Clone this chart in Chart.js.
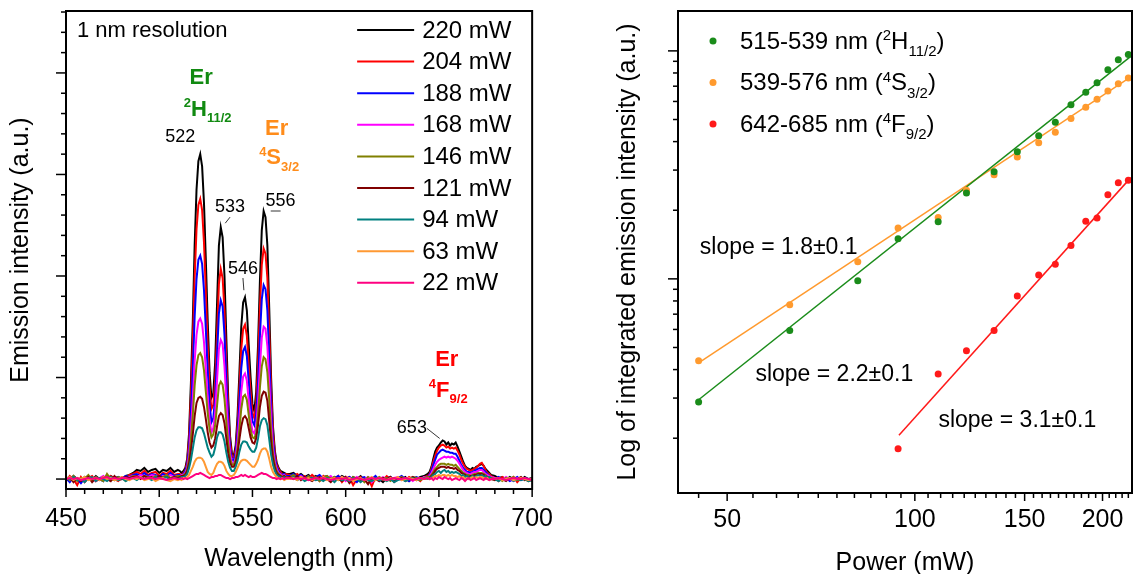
<!DOCTYPE html>
<html lang="en">
<head>
<meta charset="UTF-8">
<title>Er emission vs pump power</title>
<script src="https://cdn.jsdelivr.net/npm/chart.js"></script>
<style>
  body { margin: 0; background: #fff; }
  #wrap { position: relative; width: 1136px; height: 574px; }
  canvas { position: absolute; top: 0; }
</style>
</head>
<body>
<div id="wrap">
  <canvas id="spectra" width="560" height="574" style="left:0"></canvas>
  <canvas id="power" width="576" height="574" style="left:560px"></canvas>
</div>
<script>
const FONT = 'Arial, "Liberation Sans", sans-serif';
Chart.defaults.font.family = FONT;
Chart.defaults.color = '#000';

// ---------- left panel: emission spectra ----------
const wavelength = [
  450,452,454,456,458,460,462,464,466,468,470,472,474,476,478,480,482,484,486,488,490,492,494,496,498,500,502,504,506,508,510,
  511,512,513,514,515,516,517,518,519,520,521,522,523,524,525,526,527,528,529,530,531,532,533,534,535,536,537,538,539,540,
  541,542,543,544,545,546,547,548,549,550,551,552,553,554,555,556,557,558,559,560,561,562,563,564,565,566,567,568,
  570,572,574,576,578,580,582,584,586,588,590,592,594,596,598,600,602,604,606,608,610,612,614,616,618,620,622,624,626,628,630,632,634,636,638,640,642,644,
  645,646,647,648,649,650,651,652,653,654,655,656,657,658,659,660,661,662,663,664,665,666,667,668,669,670,671,672,673,674,675,676,677,678,
  680,682,684,686,688,690,692,694,696,698,700
];
const powerLabels = ['220 mW','204 mW','188 mW','168 mW','146 mW','121 mW','94 mW','63 mW','22 mW'];
const lineColors = ['#000000','#ff0000','#0000ff','#ff00ff','#808000','#800000','#008080','#ff9933','#ff0080'];

const p220 = [
  .02,-.02,.03,0,-.03,.02,.01,-.01,.03,0,.02,-.01,.03,.01,.02,0,.03,.04,.06,.09,.08,.11,.07,.09,.10,.06,.09,.08,.11,.07,.09,
  .08,.06,.08,.11,.20,.45,.95,1.55,2.30,2.85,3.13,3.20,3.08,2.72,2.15,1.55,1.05,.80,.84,1.15,1.72,2.30,2.48,2.38,2.00,1.38,.80,.42,.25,.23,
  .33,.62,1.05,1.50,1.74,1.79,1.66,1.32,1.00,.74,.67,.86,1.32,1.95,2.45,2.64,2.58,2.30,1.68,1.00,.52,.28,.16,.11,.08,.07,.06,.05,
  .05,.06,.03,.05,.02,.04,.01,.03,0,.02,.03,-.01,.02,0,.03,.01,-.02,.02,0,.03,-.01,.01,-.02,.02,0,-.03,.01,.02,-.01,.01,0,.02,-.02,.01,0,.02,.03,.05,
  .07,.12,.20,.27,.31,.33,.36,.38,.37,.34,.36,.33,.35,.34,.36,.32,.27,.22,.17,.13,.11,.10,.09,.11,.10,.12,.13,.14,.15,.13,.10,.08,.06,.04,
  .03,.01,.02,-.01,.02,0,.01,-.01,.02,0,.01
];
const p204 = [
  -.02,.03,0,-.06,.02,-.03,.01,.03,-.02,0,.02,-.01,.03,0,-.02,.02,.01,.04,.05,.07,.05,.08,.04,.06,.07,.03,.06,.05,.08,.04,.05,
  .05,.04,.06,.09,.17,.39,.82,1.34,1.98,2.46,2.70,2.76,2.65,2.33,1.84,1.32,.90,.69,.73,.97,1.42,1.92,2.07,1.98,1.66,1.15,.67,.36,.22,.21,
  .29,.54,.90,1.28,1.48,1.52,1.41,1.12,.86,.65,.60,.75,1.14,1.69,2.11,2.27,2.22,1.98,1.44,.87,.46,.25,.14,.10,.07,.05,.04,.05,
  .04,.03,.05,.02,.03,0,.04,.01,-.02,.03,0,.02,-.01,.03,-.03,.01,.02,-.06,0,.02,-.02,.01,-.07,.02,0,-.01,.03,0,-.02,.02,.01,-.01,.02,0,.01,-.02,.02,.03,
  .05,.10,.17,.23,.28,.31,.33,.34,.33,.31,.32,.30,.31,.30,.31,.28,.24,.19,.15,.12,.10,.09,.08,.09,.10,.11,.13,.15,.16,.13,.09,.06,.05,.03,
  .01,-.02,.02,0,-.01,.02,-.03,.01,0,-.02,.01
];
const p188 = [
  .01,-.03,.02,0,-.04,.01,.03,-.01,.02,0,-.02,.03,.01,-.01,.02,0,.03,.02,.04,.05,.03,.06,.03,.05,.04,.02,.05,.03,.06,.03,.04,
  .04,.03,.05,.08,.14,.31,.66,1.08,1.60,1.97,2.16,2.20,2.12,1.86,1.47,1.07,.74,.56,.60,.80,1.22,1.63,1.76,1.70,1.42,.98,.57,.30,.19,.18,
  .26,.46,.76,1.09,1.26,1.30,1.21,.96,.73,.57,.53,.64,.95,1.41,1.77,1.91,1.87,1.66,1.21,.72,.38,.21,.12,.08,.05,.04,.05,.03,
  .03,.05,.02,.04,.01,.03,-.01,.02,.04,0,.02,-.02,.01,.03,0,-.01,.02,0,-.03,.01,.02,-.01,0,.03,-.02,.01,0,.02,-.01,.01,.03,0,-.02,.01,.02,0,.01,.02,
  .04,.08,.14,.19,.24,.26,.28,.29,.28,.27,.27,.26,.26,.25,.25,.22,.18,.14,.11,.09,.07,.07,.06,.07,.08,.09,.10,.11,.11,.09,.07,.05,.03,.02,
  0,.02,-.01,.01,-.02,0,.02,-.01,.01,0,-.01
];
const p168 = [
  0,.02,-.02,.01,0,-.01,.02,0,-.02,.01,.03,0,-.01,.02,0,.01,-.01,.02,.03,.02,.04,.03,.02,.04,.03,.01,.03,.02,.04,.02,.03,
  .03,.04,.04,.06,.11,.24,.49,.79,1.16,1.42,1.55,1.58,1.53,1.35,1.07,.80,.58,.46,.50,.66,.97,1.28,1.37,1.33,1.11,.77,.45,.25,.16,.15,
  .21,.37,.61,.86,1.01,1.04,.97,.77,.59,.47,.45,.52,.76,1.11,1.39,1.50,1.48,1.31,.96,.58,.31,.17,.10,.06,.05,.03,.04,.02,
  .02,.03,.01,.03,0,.02,.01,-.01,.02,0,.01,.03,-.01,0,.02,-.02,.01,0,.02,-.01,0,.02,-.03,.01,0,.02,0,-.01,.01,.02,-.01,0,.01,-.02,.01,0,.02,.01,
  .03,.06,.10,.14,.17,.19,.20,.21,.22,.21,.22,.21,.22,.21,.20,.18,.15,.12,.09,.07,.06,.05,.05,.06,.07,.07,.08,.09,.09,.07,.05,.04,.03,.02,
  .01,0,-.01,.02,0,-.02,.01,0,.01,-.01,0
];
const p146 = [
  .02,-.01,.03,-.02,.01,0,.04,-.01,.02,0,-.02,.05,0,-.01,.02,.01,-.02,.01,.03,.02,.01,.03,.02,0,.03,.01,.02,.04,.01,.02,.03,
  .03,.02,.04,.05,.09,.20,.39,.63,.92,1.12,1.22,1.24,1.20,1.07,.86,.65,.49,.41,.44,.53,.72,.92,.96,.93,.79,.56,.35,.20,.14,.14,
  .19,.30,.49,.69,.81,.83,.78,.63,.49,.41,.40,.45,.64,.90,1.11,1.20,1.18,1.05,.78,.47,.25,.14,.08,.05,.04,.02,.03,.02,
  .02,.04,.01,.02,-.01,.03,0,.02,-.02,.01,.03,0,.02,-.01,.01,0,-.02,.02,0,.01,-.03,.02,0,-.01,.02,0,.01,-.02,.01,0,.02,-.01,0,.02,.01,-.01,.01,.02,
  .02,.04,.07,.10,.12,.14,.15,.15,.15,.14,.15,.14,.14,.13,.14,.12,.10,.08,.06,.05,.04,.04,.03,.04,.05,.05,.06,.06,.06,.05,.04,.02,.02,.01,
  0,.01,-.02,.01,0,.02,-.01,0,.01,-.02,0
];
const p121 = [
  -.01,.02,-.03,.01,-.02,0,.02,-.03,.01,-.01,.02,0,-.02,.03,-.01,0,.02,.01,.02,.03,0,.03,.01,.02,0,.03,.01,.02,0,.02,.01,
  .02,.03,.03,.04,.08,.15,.28,.44,.62,.75,.80,.81,.79,.71,.59,.46,.36,.31,.33,.40,.52,.62,.65,.63,.55,.40,.25,.16,.12,.12,
  .16,.25,.39,.52,.60,.62,.59,.50,.41,.36,.35,.40,.53,.71,.82,.86,.85,.77,.57,.36,.20,.11,.06,.04,.03,.02,.03,.01,
  .02,0,.03,-.01,.02,0,-.02,.01,.02,-.01,0,-.03,.01,0,-.02,.02,-.04,0,.01,-.02,0,-.05,.01,0,-.02,.01,-.01,.02,-.03,0,.01,-.02,0,.02,-.01,.01,0,.01,
  .01,.03,.05,.08,.10,.11,.12,.12,.12,.11,.12,.11,.11,.10,.11,.09,.08,.06,.05,.04,.03,.02,.03,.03,.04,.04,.05,.05,.05,.04,.03,.02,.01,0,
  -.01,.01,0,-.02,.01,-.01,0,.02,-.01,0,-.02
];
const p94 = [
  .01,0,.02,-.01,0,-.03,.01,.02,-.02,.01,0,-.02,.02,0,-.01,.01,-.02,0,.01,-.01,.02,0,.01,-.01,.02,0,.01,.02,-.01,.01,0,
  .01,.02,.02,.03,.05,.11,.19,.30,.41,.48,.51,.51,.50,.45,.38,.31,.26,.22,.24,.31,.41,.46,.46,.44,.37,.26,.17,.11,.08,.08,
  .12,.18,.27,.34,.37,.37,.36,.32,.29,.27,.27,.31,.40,.52,.58,.60,.59,.53,.39,.24,.14,.08,.04,.03,.02,.01,.02,.01,
  0,.02,-.01,.01,-.02,0,.01,-.01,0,-.02,.01,0,-.03,.01,-.01,0,-.02,.01,0,-.03,0,-.01,-.02,.01,-.01,0,-.02,0,-.03,-.01,0,-.02,0,.01,-.01,0,.01,0,
  .01,.02,.04,.05,.07,.08,.06,.08,.09,.07,.08,.06,.07,.06,.07,.06,.05,.03,.04,.02,.03,.01,.02,.03,.02,.03,.04,.03,.04,.02,.03,.01,.02,0,
  0,-.02,0,-.01,.01,-.02,0,-.01,0,-.02,-.01
];
const p63 = [
  0,.02,-.01,.01,0,.02,-.01,0,.01,-.01,.02,0,.01,-.01,0,.02,0,-.01,.01,0,.02,-.01,0,.01,-.02,0,.01,-.01,-.02,0,-.01,
  0,-.01,.01,.01,.02,.04,.08,.12,.17,.20,.21,.21,.20,.17,.12,.07,.05,.04,.06,.11,.15,.17,.17,.16,.13,.08,.05,.03,.03,.04,
  .07,.11,.15,.18,.19,.19,.18,.16,.14,.12,.12,.15,.19,.25,.29,.30,.30,.27,.20,.12,.07,.04,.02,.01,0,.01,-.01,0,
  0,.01,-.01,.02,0,.01,-.01,.01,0,.02,-.01,0,.01,-.01,.02,0,.01,-.02,0,.01,-.01,0,.02,-.01,.01,0,-.01,.01,0,.02,-.01,0,.01,0,-.01,.01,0,.01,
  0,.01,.02,.03,.03,.04,.03,.04,.04,.03,.04,.03,.04,.03,.03,.02,.03,.01,.02,0,.01,0,.01,.02,.01,.02,.01,.02,.02,.01,0,.01,-.01,0,
  0,.01,-.01,0,.01,-.01,0,.01,0,-.01,0
];
const p22 = [
  0,.01,0,.01,-.01,0,.01,0,.01,0,.01,.02,0,.01,0,.01,.01,0,.01,.02,.01,0,.01,.01,0,.01,0,-.01,0,.01,0,
  0,.01,0,.01,0,.01,.02,.03,.04,.05,.05,.06,.05,.04,.03,.02,.01,.02,.02,.03,.03,.04,.04,.03,.02,.01,.01,0,.01,.01,
  .02,.02,.03,.04,.03,.04,.03,.02,.03,.02,.02,.03,.04,.05,.06,.05,.05,.04,.03,.02,.01,.01,0,.01,0,.01,0,.01,
  .01,0,.01,0,.01,-.01,0,.01,0,.01,0,-.01,0,.01,0,.01,-.01,0,.01,0,-.01,0,.01,0,.01,0,-.01,0,.01,0,0,.01,0,-.01,0,.01,0,.01,
  0,.01,-.01,.01,0,.02,.01,0,.02,.01,0,.01,-.01,0,.01,0,-.01,.01,0,-.02,0,.01,-.01,0,.01,-.01,0,.01,0,-.01,.01,0,-.01,0,
  0,.01,0,-.01,0,.01,0,0,.01,0,-.01
];
const spectra = [p220, p204, p188, p168, p146, p121, p94, p63, p22];
const wlTickLabels = [450, 500, 550, 600, 650, 700];

// ---------- right panel: integrated intensity vs power ----------
const power    = [45, 63, 81, 94, 109, 121, 134, 146, 158, 168, 178, 188, 196, 204, 212, 220];
const powerRed = [94, 109, 121, 134, 146, 158, 168, 178, 188, 196, 204, 212, 220];
const intGreen  = [0.288, 0.594, 0.98, 1.50, 1.78, 2.38, 2.95, 3.61, 4.24, 4.86, 5.80, 6.59, 7.24, 8.26, 9.15, 9.63];
const intOrange = [0.437, 0.769, 1.19, 1.67, 1.86, 2.45, 2.86, 3.42, 3.95, 4.40, 5.05, 5.66, 6.13, 6.66, 7.18, 7.61];
const intRed    = [0.180, 0.383, 0.484, 0.594, 0.842, 1.04, 1.16, 1.40, 1.79, 1.85, 2.34, 2.64, 2.71];
const fitGreenP  = [45, 222],   fitGreenV  = [0.295, 9.46];
const fitOrangeP = [45, 222],   fitOrangeV = [0.4285, 7.69];
const fitRedP    = [94.3, 222], fitRedV    = [0.206, 2.78];
const powerTickLabels = [50, 100, 150, 200];
const bandNames = ['515-539 nm', '539-576 nm', '642-685 nm'];
const bandLevels = [['2', 'H', '11/2'], ['4', 'S', '3/2'], ['4', 'F', '9/2']];
const slopeTexts = ['slope = 1.8\u00b10.1', 'slope = 2.2\u00b10.1', 'slope = 3.1\u00b10.1'];
const dotColors = ['#1a8c1a', '#ff9a2e', '#ff1a1a'];

// ---------- drawing helpers ----------
function fontOf(size, bold) { return (bold ? 'bold ' : '') + size + 'px ' + FONT; }

// parts: [text, size, bold, dy]
function rich(ctx, x, y, parts, align) {
  let w = 0;
  parts.forEach(p => { ctx.font = fontOf(p[1], p[2]); w += ctx.measureText(p[0]).width; });
  let cx = align === 'center' ? x - w / 2 : x;
  ctx.textAlign = 'left';
  ctx.textBaseline = 'middle';
  parts.forEach(p => {
    ctx.font = fontOf(p[1], p[2]);
    ctx.fillText(p[0], cx, y + (p[3] || 0));
    cx += ctx.measureText(p[0]).width;
  });
}

function frameAndTicks(ctx, chart, xLen, yLen) {
  const a = chart.chartArea;
  ctx.strokeStyle = '#000';
  ctx.lineWidth = 1.5;
  chart.scales.x.ticks.forEach(t => {
    const p = chart.scales.x.getPixelForValue(t.value);
    if (p < a.left - 1 || p > a.right + 1) return;
    ctx.beginPath(); ctx.moveTo(p, a.bottom); ctx.lineTo(p, a.bottom + xLen(t.value)); ctx.stroke();
  });
  chart.scales.y.ticks.forEach(t => {
    const p = chart.scales.y.getPixelForValue(t.value);
    if (p < a.top - 1 || p > a.bottom + 1) return;
    ctx.beginPath(); ctx.moveTo(a.left, p); ctx.lineTo(a.left - yLen(t.value), p); ctx.stroke();
  });
  ctx.lineWidth = 2;
  ctx.strokeRect(a.left, a.top, a.right - a.left, a.bottom - a.top);
}

function segment(ctx, chart, x1, y1, x2, y2) {
  const sx = chart.scales.x, sy = chart.scales.y;
  ctx.beginPath();
  ctx.moveTo(sx.getPixelForValue(x1), sy.getPixelForValue(y1));
  ctx.lineTo(sx.getPixelForValue(x2), sy.getPixelForValue(y2));
  ctx.stroke();
}

const spectraDecor = {
  id: 'spectraDecor',
  afterDatasetsDraw(chart) {
    const {ctx, chartArea: a} = chart;
    const sx = chart.scales.x, sy = chart.scales.y;
    ctx.save();
    frameAndTicks(ctx, chart,
      v => (v % 50 === 0 ? 8 : 5),
      v => (Math.abs(v - Math.round(v)) < 1e-6 ? 10 : 5));

    // legend
    powerLabels.forEach((lab, i) => {
      const yy = a.top + 19 + i * 31.6;
      ctx.strokeStyle = lineColors[i];
      ctx.lineWidth = 2;
      ctx.beginPath(); ctx.moveTo(a.right - 175, yy); ctx.lineTo(a.right - 118, yy); ctx.stroke();
      ctx.fillStyle = '#000';
      rich(ctx, a.right - 110, yy + 1, [[lab, 24]]);
    });

    ctx.fillStyle = '#000';
    rich(ctx, a.left + 11, a.top + 20, [['1 nm resolution', 22]]);

    // peak labels
    [['522', 511.3, 3.37], ['533', 538.0, 2.68], ['546', 544.9, 2.07], ['556', 565.1, 2.74], ['653', 635.5, 0.50]]
      .forEach(n => rich(ctx, sx.getPixelForValue(n[1]), sy.getPixelForValue(n[2]), [[n[0], 18]], 'center'));
    ctx.strokeStyle = '#000';
    ctx.lineWidth = 0.8;
    segment(ctx, chart, 535.4, 2.52, 538.0, 2.58);
    segment(ctx, chart, 544.9, 1.98, 545.4, 1.86);
    segment(ctx, chart, 559.8, 2.64, 565.1, 2.64);
    segment(ctx, chart, 643.5, 0.50, 650.4, 0.40);

    // transition labels
    const notes = [
      ['#118a11', 522.5, 3.95, 526.0, 3.64, ['2', 'H', '11/2']],
      ['#ff8c1a', 563.0, 3.45, 564.3, 3.16, ['4', 'S', '3/2']],
      ['#ff0000', 654.2, 1.17, 655.0, 0.87, ['4', 'F', '9/2']]
    ];
    notes.forEach(n => {
      ctx.fillStyle = n[0];
      rich(ctx, sx.getPixelForValue(n[1]), sy.getPixelForValue(n[2]), [['Er', 22, true]], 'center');
      rich(ctx, sx.getPixelForValue(n[3]), sy.getPixelForValue(n[4]),
        [[n[5][0], 13, true, -6], [n[5][1], 22, true], [n[5][2], 13, true, 9]], 'center');
    });
    ctx.restore();
  }
};

const powerDecor = {
  id: 'powerDecor',
  afterDatasetsDraw(chart) {
    const {ctx, chartArea: a} = chart;
    const sx = chart.scales.x, sy = chart.scales.y;
    ctx.save();
    frameAndTicks(ctx, chart,
      v => (powerTickLabels.includes(v) ? 8 : 5),
      v => (Math.abs(Math.log10(v) - Math.round(Math.log10(v))) < 1e-9 ? 10 : 5));

    // legend
    bandNames.forEach((name, i) => {
      const yy = a.top + 30 + i * 41.5;
      ctx.fillStyle = dotColors[i];
      ctx.beginPath(); ctx.arc(a.left + 35, yy, 3.5, 0, Math.PI * 2); ctx.fill();
      ctx.fillStyle = '#000';
      const lv = bandLevels[i];
      rich(ctx, a.left + 62, yy + 1,
        [[name + ' (', 24], [lv[0], 15, false, -6], [lv[1], 24], [lv[2], 15, false, 10], [')', 24]]);
    });

    // slope labels
    [[45.2, 1.368], [55.5, 0.379], [109.1, 0.238]].forEach((p, i) => {
      rich(ctx, sx.getPixelForValue(p[0]), sy.getPixelForValue(p[1]), [[slopeTexts[i], 23]]);
    });
    ctx.restore();
  }
};

// ---------- left chart ----------
new Chart(document.getElementById('spectra'), {
  type: 'line',
  data: {
    datasets: spectra.map((vals, i) => ({
      label: powerLabels[i],
      data: vals.map((v, k) => ({x: wavelength[k], y: v})),
      borderColor: lineColors[i],
      borderWidth: 2,
      pointRadius: 0,
      tension: 0,
      order: spectra.length - 1 - i
    }))
  },
  options: {
    responsive: false,
    animation: false,
    devicePixelRatio: 1,
    layout: {padding: {top: 11, right: 25, left: 0, bottom: 0}},
    plugins: {legend: {display: false}, tooltip: {enabled: false}},
    scales: {
      x: {
        type: 'linear', min: 450, max: 700,
        afterBuildTicks: s => { const t = []; for (let v = 450; v <= 700; v += 10) t.push({value: v}); s.ticks = t; },
        afterFit: s => { s.height = 85; },
        grid: {display: false, drawTicks: true, tickLength: 8},
        border: {display: false},
        ticks: {autoSkip: false, maxRotation: 0, padding: 7, font: {size: 25},
                callback: v => (wlTickLabels.includes(v) ? String(v) : '')},
        title: {display: true, text: 'Wavelength (nm)', font: {size: 25, lineHeight: 1}, padding: {top: 0, bottom: 2}}
      },
      y: {
        type: 'linear', min: -0.098, max: 4.61,
        afterBuildTicks: s => { const t = []; for (let k = 0; k <= 23; k++) t.push({value: Math.round(k * 2) / 10}); s.ticks = t; },
        afterFit: s => { s.width = 66; },
        grid: {display: false},
        border: {display: false},
        ticks: {display: false},
        title: {display: true, text: 'Emission intensity (a.u.)', font: {size: 25, lineHeight: 1.2}, padding: {top: 6, bottom: 0}}
      }
    }
  },
  plugins: [spectraDecor]
});

// ---------- right chart ----------
const pts = (xs, ys) => xs.map((x, i) => ({x: x, y: ys[i]}));
const dotSet = (label, xs, ys, c) => ({label, data: pts(xs, ys), backgroundColor: c, borderWidth: 0, pointRadius: 3.5, showLine: false, order: 0});
const fitSet = (xs, ys, c) => ({data: pts(xs, ys), borderColor: c, borderWidth: 1.5, pointRadius: 0, showLine: true, order: 1});

new Chart(document.getElementById('power'), {
  type: 'scatter',
  data: {
    datasets: [
      fitSet(fitGreenP, fitGreenV, dotColors[0]),
      fitSet(fitOrangeP, fitOrangeV, dotColors[1]),
      fitSet(fitRedP, fitRedV, dotColors[2]),
      dotSet(bandNames[0], power, intGreen, dotColors[0]),
      dotSet(bandNames[1], power, intOrange, dotColors[1]),
      dotSet(bandNames[2], powerRed, intRed, dotColors[2])
    ]
  },
  options: {
    responsive: false,
    animation: false,
    devicePixelRatio: 1,
    layout: {padding: {top: 11, right: 4, left: 0, bottom: 0}},
    plugins: {legend: {display: false}, tooltip: {enabled: false}},
    scales: {
      x: {
        type: 'logarithmic', min: 41.7, max: 223,
        afterBuildTicks: s => { const t = []; for (let v = 45; v <= 220; v += 5) t.push({value: v}); s.ticks = t; },
        afterFit: s => { s.height = 81; },
        grid: {display: false, drawTicks: true, tickLength: 8},
        border: {display: false},
        ticks: {autoSkip: false, maxRotation: 0, padding: 4, font: {size: 25},
                callback: v => (powerTickLabels.includes(v) ? String(v) : '')},
        title: {display: true, text: 'Power (mW)', font: {size: 25, lineHeight: 0.9}, padding: {top: 0, bottom: 0}}
      },
      y: {
        type: 'logarithmic', min: 0.115, max: 14.96,
        afterBuildTicks: s => {
          const t = [];
          for (let e = -1; e <= 1; e++) for (let m = 1; m < 10; m++) {
            const v = m * Math.pow(10, e);
            if (v >= s.min && v <= s.max) t.push({value: v});
          }
          s.ticks = t;
        },
        afterFit: s => { s.width = 118; },
        grid: {display: false},
        border: {display: false},
        ticks: {display: false},
        title: {display: true, text: 'Log of integrated emission intensity (a.u.)', font: {size: 25, lineHeight: 1.2}, padding: {top: 53, bottom: 0}}
      }
    }
  },
  plugins: [powerDecor]
});
</script>
</body>
</html>
